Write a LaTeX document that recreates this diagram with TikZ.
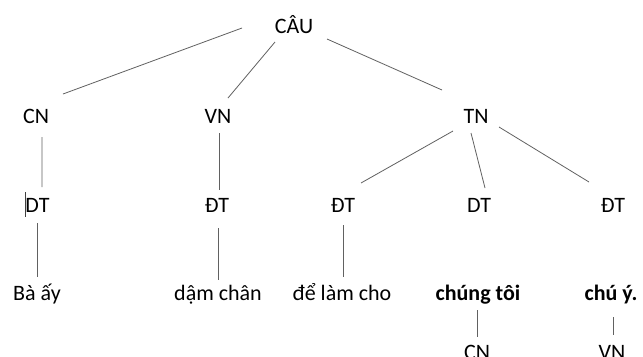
\documentclass[tikz,border=0pt]{standalone}
\usepackage{fontspec}
\setmainfont{Carlito}
\begin{document}
\begin{tikzpicture}[x=1bp,y=-1bp,
  lbl/.style={anchor=base,inner sep=0pt,font=\fontsize{22bp}{26bp}\selectfont},
  blbl/.style={lbl,font=\fontsize{22bp}{26bp}\selectfont\bfseries},
  conn/.style={draw=black!62,line width=0.8bp}]
\useasboundingbox[fill=white] (0,0) rectangle (643,356);
% nodes
\node[lbl] (cau) at (294,33) {CÂU};
\node[lbl] (cn) at (36,123) {CN};
\node[lbl] (vn) at (218,123) {VN};
\node[lbl] (tn) at (476,123) {TN};
\node[lbl] (dt1) at (37.5,212) {DT};
\node[lbl] (dt2) at (217,212) {ĐT};
\node[lbl] (dt3) at (343,212) {ĐT};
\node[lbl] (dt4) at (479,212) {DT};
\node[lbl] (dt5) at (613,212) {ĐT};
\node[lbl] (w1) at (37,300) {Bà ấy};
\node[lbl] (w2) at (218,300) {dậm chân};
\node[lbl] (w3) at (342,300) {để làm cho};
\node[blbl] (w4) at (478,300) {chúng tôi};
\node[blbl] (w5) at (611,300) {chú ý.};
\node[lbl] (c1) at (477,359) {CN};
\node[lbl] (c2) at (612,359) {VN};
% connectors
\draw[conn] ([shift={(-52,-5)}]cau.base) -- ([shift={(27,-29)}]cn.base);
\draw[conn] ([shift={(-19,9)}]cau.base) -- ([shift={(10,-25)}]vn.base);
\draw[conn] ([shift={(33,6)}]cau.base) -- ([shift={(-34,-33)}]tn.base);
\draw[conn] ([shift={(6,14)}]cn.base) -- ([shift={(4.5,-25)}]dt1.base);
\draw[conn] ([shift={(1,10)}]vn.base) -- ([shift={(2,-22)}]dt2.base);
\draw[conn] ([shift={(-23,8)}]tn.base) -- ([shift={(18,-29)}]dt3.base);
\draw[conn] ([shift={(-5,10)}]tn.base) -- ([shift={(6,-24)}]dt4.base);
\draw[conn] ([shift={(23,4)}]tn.base) -- ([shift={(-24,-30)}]dt5.base);
\draw[conn,draw=black!75] ([shift={(-12.5,-20)}]dt1.base) -- ([shift={(-12.5,5)}]dt1.base);
\draw[conn] ([shift={(-0.5,11)}]dt1.base) -- ([shift={(0,-23)}]w1.base);
\draw[conn] ([shift={(1,16)}]dt2.base) -- ([shift={(0,-20)}]w2.base);
\draw[conn] ([shift={(0,13)}]dt3.base) -- ([shift={(1,-23)}]w3.base);
\draw[conn] ([shift={(-1,10)}]w4.base) -- ([shift={(0,-22)}]c1.base);
\draw[conn] ([shift={(2,17)}]w5.base) -- ([shift={(1,-24)}]c2.base);
\end{tikzpicture}
\end{document}
